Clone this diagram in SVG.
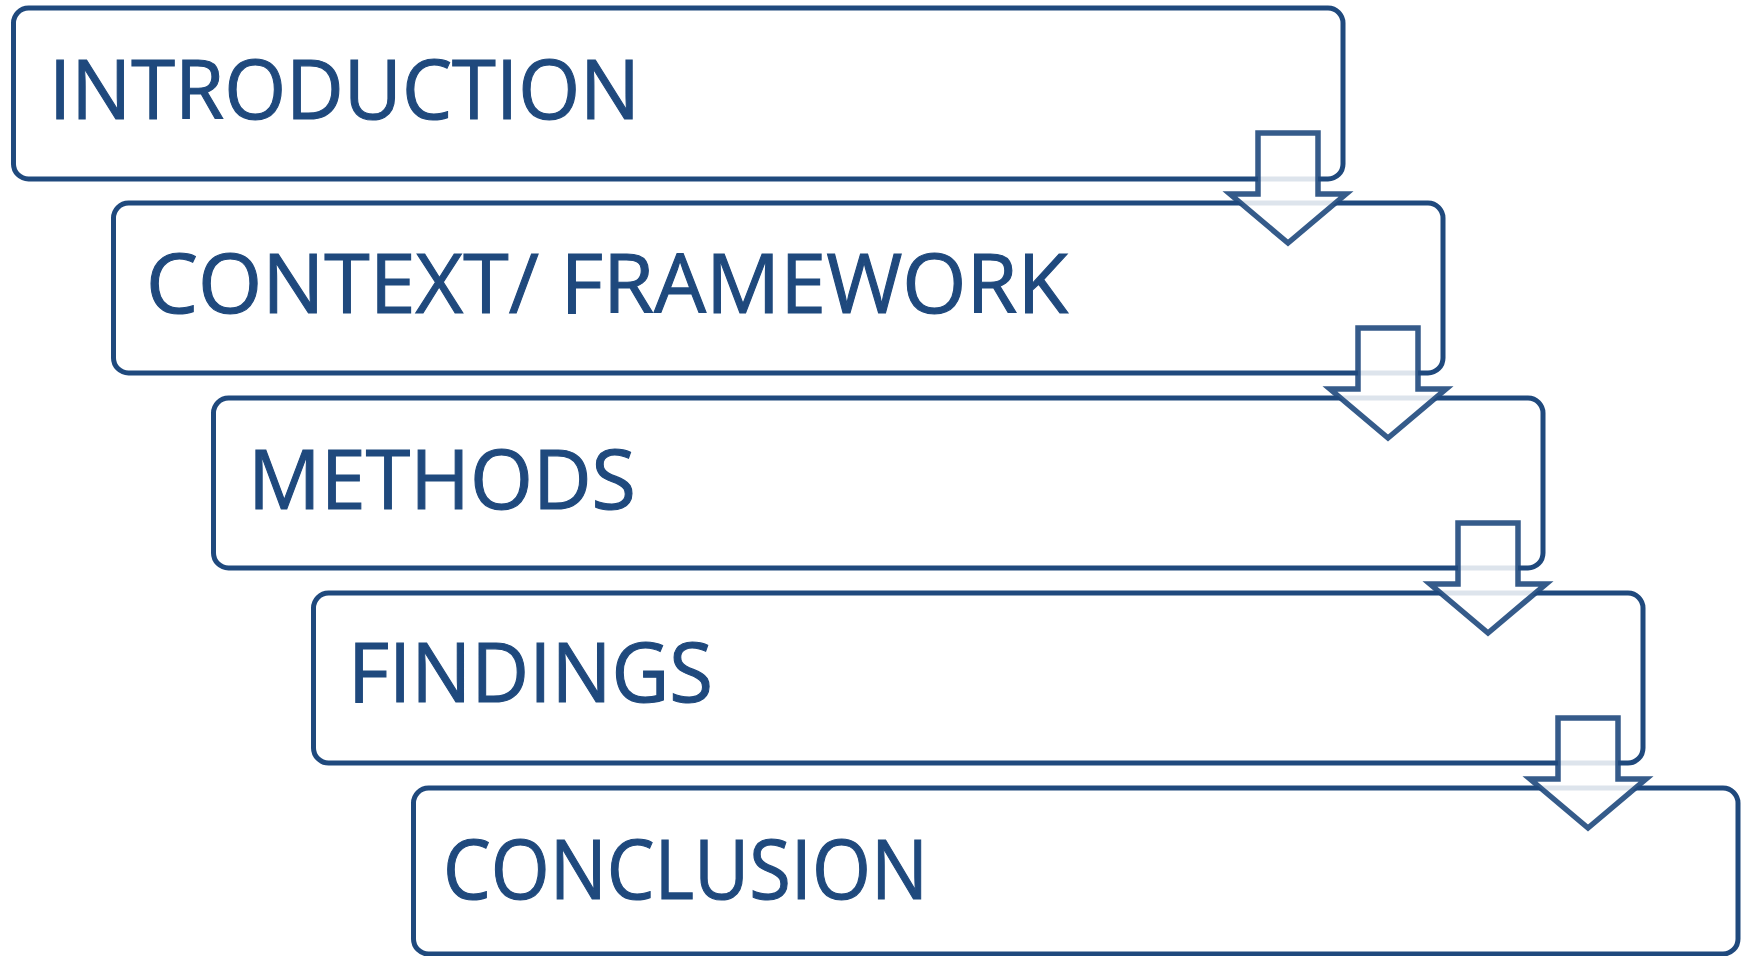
<svg xmlns="http://www.w3.org/2000/svg" width="1743" height="956" viewBox="0 0 1743 956">
  <defs>
    <style>
      .box { fill: #ffffff; stroke: #1F497D; stroke-width: 5; }
      .label { font-family: "Open Sans", "Liberation Sans", sans-serif; font-size: 83px; fill: #1F497D; stroke: #1F497D; stroke-width: 1.1; }
      .arrow { fill: #ffffff; fill-opacity: 0.85; stroke: #1F497D; stroke-opacity: 0.9; stroke-width: 5.5; stroke-linejoin: miter; }
    </style>
    <!-- down arrow between consecutive steps -->
    <path id="downArrow" d="M1258,133 H1318 V194 H1346 L1288,243 L1230,194 H1258 Z"/>
  </defs>
  <rect width="1743" height="956" fill="#ffffff"/>

  <g id="step-introduction">
    <rect class="box" x="13.5" y="8" width="1329.5" height="171" rx="15"/>
    <text class="label" x="49" y="119" textLength="591" lengthAdjust="spacingAndGlyphs">INTRODUCTION</text>
  </g>
  <g id="step-context">
    <rect class="box" x="113.5" y="203" width="1329.5" height="170" rx="15"/>
    <text class="label" x="146" y="313" textLength="922" lengthAdjust="spacingAndGlyphs">CONTEXT/ FRAMEWORK</text>
  </g>
  <g id="step-methods">
    <rect class="box" x="213.5" y="398" width="1329.5" height="170" rx="15"/>
    <text class="label" x="248" y="509" textLength="388" lengthAdjust="spacingAndGlyphs">METHODS</text>
  </g>
  <g id="step-findings">
    <rect class="box" x="313.5" y="593" width="1329.5" height="170" rx="15"/>
    <text class="label" x="348" y="702" textLength="365" lengthAdjust="spacingAndGlyphs">FINDINGS</text>
  </g>
  <g id="step-conclusion">
    <rect class="box" x="413.5" y="788" width="1324.5" height="166" rx="15"/>
    <text class="label" x="443" y="899" textLength="485" lengthAdjust="spacingAndGlyphs">CONCLUSION</text>
  </g>

  <g id="connectors">
    <use href="#downArrow" class="arrow"/>
    <use href="#downArrow" class="arrow" transform="translate(100,195)"/>
    <use href="#downArrow" class="arrow" transform="translate(200,390)"/>
    <use href="#downArrow" class="arrow" transform="translate(300,585)"/>
  </g>
</svg>
